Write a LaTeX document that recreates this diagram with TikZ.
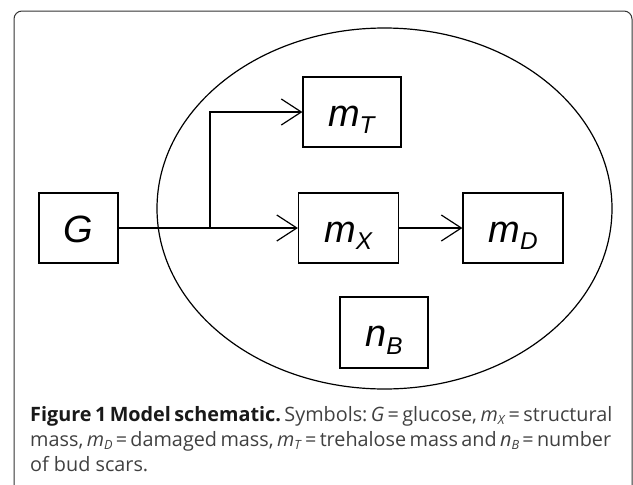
\documentclass[tikz,border=0pt]{standalone}
\usepackage{fontspec}
\usepackage{graphicx}
\usetikzlibrary{arrows.meta}
\newfontfamily\boxfont{Liberation Sans}
\newfontfamily\capfont{Open Sans}[BoldFont={Open Sans Bold}, ItalicFont={Open Sans Italic}]
\newcommand\symb[2]{\textit{#1}\raisebox{-0.2em}{\scalebox{0.64}{\textit{#2}}}}
\frenchspacing

\begin{document}
\begin{tikzpicture}[x=1pt, y=-1pt,
		pool/.style={draw, line width=1.2pt, inner sep=0pt, minimum width=100pt, minimum height=70pt,
			text height=28pt, text depth=0pt, font=\boxfont\fontsize{38}{40}\selectfont},
		flow/.style={line width=1.2pt, -{Straight Barb[length=20pt, width=26pt]}},
		captext/.style={anchor=base west, inner sep=0pt, font=\capfont\fontsize{19.8}{24}\selectfont, text=black!75}]
			\useasboundingbox (0,0) rectangle (633,485);
			
			% Rahmen
			\draw[black!80, line width=1pt, rounded corners=8pt] (14,490) -- (14,11) -- (632,11) -- (632,490);
			
			% Zelle
			\draw[line width=1.2pt] (384.5,208.5) ellipse [x radius=227.5pt, y radius=180.5pt];
			
			% Groessen
			\node[pool, minimum width=79pt] (G) at (78.5,228) {\textit{G}};
			\node[pool, minimum width=98pt] (mT) at (352,112) {\symb{m}{T}};
			\node[pool] (mX) at (348.5,228) {\symb{m}{X}};
			\node[pool] (mD) at (513,228) {\symb{m}{D}};
			\node[pool, minimum width=88pt, minimum height=71pt] (nB) at (384,332.5) {\symb{n}{B}};
			
			% Fluesse
			\coordinate (split) at (210,228);
			\draw[flow] (G) -- (mX);
			\draw[flow] (split) |- (mT);
			\draw[flow] (mX) -- (mD);
			
			% Bildunterschrift
			\node[captext] (cap1) at (30,421) {\makebox[567pt][s]{\textbf{\color{black!90}Figure 1 Model schematic.} Symbols: \textit{G}\,=\,glucose, \symb{m}{X}\,=\,structural}};
			\node[captext] (cap2) at (30,446) {\makebox[567pt][s]{mass, \symb{m}{D}\,=\,damaged mass, \symb{m}{T}\,=\,trehalose mass and \symb{n}{B}\,=\,number}};
			\node[captext] (cap3) at (30,471) {of bud scars.};
		\end{tikzpicture}
\end{document}
